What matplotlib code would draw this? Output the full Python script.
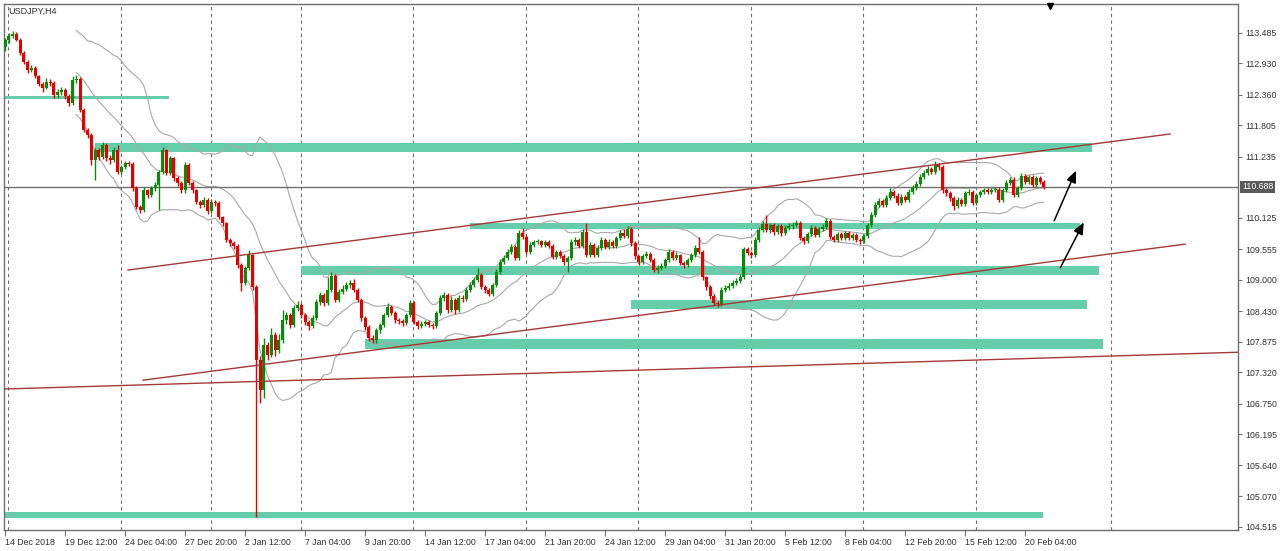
import numpy as np
import pandas as pd
import matplotlib
matplotlib.use("Agg")
import matplotlib.pyplot as plt
from matplotlib.patches import Rectangle
from matplotlib.transforms import blended_transform_factory

plt.rcParams['font.family'] = ['Liberation Sans', 'DejaVu Sans']

# USDJPY H4, 14 Dec 2018 20:00 .. 21 Feb 2019 00:00 (bar index 0..277)
first_open = 113.23
closes = [
    113.36, 113.43, 113.47, 113.36, 113.12, 112.96, 112.81, 112.85, 112.70, 112.56,
    112.49, 112.60, 112.58, 112.36, 112.41, 112.45, 112.34, 112.21, 112.63, 112.65,
    112.09, 111.72, 111.63, 111.18, 111.36, 111.23, 111.45, 111.21, 111.18, 111.36,
    110.96, 111.05, 111.12, 111.11, 110.67, 110.33, 110.27, 110.63, 110.54, 110.67,
    110.72, 110.96, 111.36, 110.94, 111.21, 110.85, 110.76, 110.63, 111.09, 110.76,
    110.63, 110.42, 110.36, 110.45, 110.25, 110.42, 110.40, 110.14, 110.03, 109.73,
    109.67, 109.62, 109.27, 108.95, 109.22, 109.45, 108.87, 107.55, 107.00, 107.82,
    107.64, 108.00, 107.73, 107.91, 108.27, 108.36, 108.18, 108.49, 108.55, 108.36,
    108.24, 108.16, 108.31, 108.60, 108.73, 108.58, 108.82, 109.07, 108.64, 108.78,
    108.84, 108.91, 108.95, 108.82, 108.64, 108.31, 108.15, 107.95, 107.91, 108.09,
    108.18, 108.36, 108.51, 108.40, 108.27, 108.25, 108.22, 108.36, 108.58, 108.24,
    108.16, 108.20, 108.24, 108.18, 108.16, 108.40, 108.67, 108.73, 108.45, 108.64,
    108.45, 108.67, 108.66, 108.82, 108.91, 109.00, 109.09, 108.87, 108.82, 108.75,
    108.91, 109.15, 109.33, 109.40, 109.51, 109.60, 109.40, 109.85, 109.78, 109.51,
    109.63, 109.69, 109.70, 109.63, 109.69, 109.62, 109.42, 109.51, 109.43, 109.33,
    109.40, 109.69, 109.73, 109.62, 109.87, 109.45, 109.63, 109.45, 109.58, 109.73,
    109.60, 109.69, 109.62, 109.76, 109.85, 109.80, 109.93, 109.67, 109.43, 109.33,
    109.43, 109.47, 109.36, 109.18, 109.22, 109.25, 109.36, 109.51, 109.40, 109.45,
    109.31, 109.27, 109.36, 109.45, 109.58, 109.51, 109.05, 108.87, 108.71, 108.58,
    108.56, 108.82, 108.85, 108.89, 108.95, 108.98, 109.05, 109.56, 109.49, 109.45,
    109.73, 109.91, 110.02, 109.91, 110.00, 109.87, 109.98, 109.85, 109.94, 109.98,
    110.00, 110.03, 109.76, 109.71, 109.83, 109.94, 109.82, 109.93, 109.96, 110.07,
    109.78, 109.73, 109.83, 109.76, 109.85, 109.76, 109.82, 109.73, 109.71, 109.80,
    110.00, 110.18, 110.36, 110.43, 110.36, 110.49, 110.60, 110.53, 110.40, 110.51,
    110.45, 110.60, 110.67, 110.74, 110.87, 110.94, 111.01, 110.96, 111.09, 111.05,
    110.63, 110.58, 110.49, 110.34, 110.45, 110.38, 110.58, 110.60, 110.40, 110.54,
    110.60, 110.63, 110.60, 110.63, 110.64, 110.45, 110.63, 110.76, 110.82, 110.54,
    110.67, 110.89, 110.78, 110.87, 110.72, 110.85, 110.78, 110.69,
]
highs = [
    113.40, 113.48, 113.52, 113.50, 113.39, 113.15, 112.99, 112.90, 112.88, 112.73,
    112.60, 112.66, 112.64, 112.61, 112.47, 112.50, 112.48, 112.38, 112.70, 112.72,
    112.68, 112.12, 111.76, 111.66, 111.40, 111.40, 111.50, 111.48, 111.26, 111.42,
    111.45, 111.09, 111.16, 111.16, 111.14, 110.70, 110.36, 110.69, 110.66, 110.71,
    110.78, 111.00, 111.42, 111.38, 111.25, 111.24, 110.89, 110.80, 111.14, 111.12,
    110.80, 110.66, 110.46, 110.50, 110.48, 110.47, 110.46, 110.43, 110.17, 110.06,
    109.77, 109.70, 109.65, 109.30, 109.26, 109.54, 109.48, 108.90, 107.62, 107.95,
    107.88, 108.12, 108.05, 108.02, 108.45, 108.42, 108.40, 108.55, 108.62, 108.58,
    108.40, 108.27, 108.36, 108.66, 108.78, 108.76, 109.05, 109.15, 109.10, 108.84,
    108.90, 108.96, 109.00, 109.02, 108.86, 108.67, 108.34, 108.18, 108.00, 108.13,
    108.22, 108.40, 108.58, 108.54, 108.44, 108.31, 108.29, 108.40, 108.64, 108.62,
    108.27, 108.25, 108.28, 108.27, 108.22, 108.44, 108.72, 108.79, 108.76, 108.70,
    108.68, 108.72, 108.72, 108.87, 108.96, 109.06, 109.22, 109.12, 108.91, 108.86,
    108.95, 109.20, 109.38, 109.45, 109.56, 109.66, 109.63, 109.90, 109.94, 109.82,
    109.68, 109.73, 109.74, 109.73, 109.73, 109.72, 109.65, 109.55, 109.54, 109.47,
    109.44, 109.74, 109.78, 109.76, 109.92, 110.03, 109.68, 109.67, 109.63, 109.78,
    109.76, 109.74, 109.73, 109.80, 109.90, 109.92, 109.98, 109.96, 109.70, 109.46,
    109.48, 109.52, 109.50, 109.39, 109.27, 109.30, 109.40, 109.56, 109.54, 109.50,
    109.48, 109.34, 109.40, 109.49, 109.63, 109.78, 109.54, 109.08, 108.90, 108.74,
    108.62, 108.87, 108.90, 108.94, 109.00, 109.04, 109.10, 109.60, 109.60, 109.53,
    109.78, 109.96, 110.07, 110.18, 110.04, 110.04, 110.02, 110.02, 109.99, 110.03,
    110.05, 110.08, 110.07, 109.80, 109.87, 109.99, 109.98, 109.97, 110.01, 110.12,
    110.10, 109.82, 109.87, 109.87, 109.89, 109.89, 109.86, 109.86, 109.77, 109.84,
    110.04, 110.23, 110.41, 110.48, 110.47, 110.54, 110.67, 110.64, 110.57, 110.56,
    110.55, 110.65, 110.72, 110.79, 110.92, 110.99, 111.06, 111.05, 111.16, 111.13,
    111.09, 110.67, 110.62, 110.52, 110.50, 110.49, 110.62, 110.66, 110.64, 110.58,
    110.64, 110.67, 110.67, 110.67, 110.68, 110.68, 110.67, 110.81, 110.86, 110.86,
    110.71, 110.94, 110.93, 110.91, 110.91, 110.89, 110.89, 110.82,
]
lows = [
    113.15, 113.30, 113.40, 113.33, 113.08, 112.92, 112.76, 112.77, 112.66, 112.52,
    112.42, 112.46, 112.52, 112.30, 112.31, 112.36, 112.29, 112.16, 112.18, 112.58,
    112.05, 111.68, 111.58, 111.09, 110.82, 111.18, 111.20, 111.16, 111.10, 111.14,
    110.92, 110.92, 111.02, 111.06, 110.62, 110.28, 110.22, 110.24, 110.49, 110.50,
    110.62, 110.27, 110.92, 110.90, 110.90, 110.80, 110.70, 110.58, 110.58, 110.72,
    110.58, 110.38, 110.30, 110.32, 110.20, 110.21, 110.35, 110.10, 109.98, 109.68,
    109.62, 109.57, 109.22, 108.80, 108.90, 109.18, 108.82, 104.70, 106.77, 106.85,
    107.55, 107.60, 107.62, 107.68, 107.86, 108.20, 108.12, 108.15, 108.44, 108.30,
    108.18, 108.09, 108.12, 108.27, 108.55, 108.53, 108.55, 108.78, 108.60, 108.60,
    108.74, 108.80, 108.86, 108.78, 108.60, 108.26, 108.10, 107.90, 107.85, 107.86,
    108.04, 108.14, 108.32, 108.36, 108.22, 108.20, 108.17, 108.18, 108.32, 108.20,
    108.11, 108.12, 108.16, 108.14, 108.11, 108.12, 108.36, 108.62, 108.40, 108.41,
    108.38, 108.41, 108.60, 108.62, 108.78, 108.87, 108.96, 108.83, 108.77, 108.70,
    108.71, 108.87, 109.11, 109.29, 109.36, 109.47, 109.36, 109.36, 109.74, 109.47,
    109.48, 109.60, 109.65, 109.60, 109.60, 109.58, 109.38, 109.38, 109.39, 109.28,
    109.15, 109.36, 109.64, 109.58, 109.58, 109.41, 109.41, 109.41, 109.42, 109.55,
    109.56, 109.56, 109.58, 109.58, 109.72, 109.76, 109.76, 109.62, 109.38, 109.28,
    109.29, 109.39, 109.32, 109.14, 109.13, 109.18, 109.21, 109.32, 109.36, 109.36,
    109.27, 109.22, 109.23, 109.32, 109.41, 109.47, 109.00, 108.82, 108.66, 108.54,
    108.51, 108.52, 108.78, 108.81, 108.85, 108.91, 108.94, 109.01, 109.45, 109.40,
    109.42, 109.69, 109.87, 109.87, 109.86, 109.82, 109.83, 109.80, 109.81, 109.90,
    109.93, 109.96, 109.72, 109.66, 109.67, 109.79, 109.78, 109.78, 109.89, 109.92,
    109.74, 109.68, 109.69, 109.72, 109.72, 109.72, 109.72, 109.69, 109.66, 109.67,
    109.76, 109.96, 110.14, 110.32, 110.32, 110.32, 110.45, 110.49, 110.36, 110.36,
    110.41, 110.41, 110.56, 110.63, 110.70, 110.83, 110.90, 110.92, 110.92, 111.00,
    110.58, 110.53, 110.44, 110.27, 110.30, 110.34, 110.34, 110.54, 110.36, 110.36,
    110.50, 110.56, 110.56, 110.56, 110.59, 110.41, 110.41, 110.59, 110.72, 110.50,
    110.50, 110.63, 110.74, 110.74, 110.68, 110.68, 110.74, 110.65,
]
current_price = 110.688

# time axis: a label every 16 bars
time_labels = ['14 Dec 2018', '19 Dec 12:00', '24 Dec 04:00', '27 Dec 20:00', '2 Jan 12:00',
               '7 Jan 04:00', '9 Jan 20:00', '14 Jan 12:00', '17 Jan 04:00', '21 Jan 20:00',
               '24 Jan 12:00', '29 Jan 04:00', '31 Jan 20:00', '5 Feb 12:00', '8 Feb 04:00',
               '12 Feb 20:00', '15 Feb 12:00', '20 Feb 04:00']
# week separators (Monday 00:00 bars)
week_bars = [1, 31, 55, 79, 109, 139, 169, 199, 229, 259, 295]

price_ticks = [113.485, 112.930, 112.360, 111.805, 111.235, 110.125, 109.555, 109.000,
               108.430, 107.875, 107.320, 106.750, 106.195, 105.640, 105.070, 104.515]

# support / resistance zones: (bar start, bar end, price low, price high)
zone_x0 = [-1, 24, 124, 79, 167, 96, -1]
zone_x1 = [43.7, 289.9, 286.7, 291.7, 288.5, 292.8, 276.8]
zone_lo = [112.28, 111.33, 109.93, 109.09, 108.47, 107.75, 104.68]
zone_hi = [112.34, 111.49, 110.04, 109.25, 108.64, 107.93, 104.79]

# trend lines: (bar0, price0, bar1, price1)
trend_lines = [
    (32.8, 109.18, 310.7, 111.65),
    (36.8, 107.18, 314.7, 109.65),
    (-5.0, 107.01, 340.0, 107.71),
]
# arrows: (bar0, price0, bar1, price1)
arrows = [
    (279.5, 110.03, 285.9, 111.03),
    (281.1, 109.18, 288.0, 110.09),
]

GREEN = '#0A8A0A'
RED = '#E60000'
ZONE = '#66CDAA'
TREND = '#A33A35'
TXT = '#303030'

closes = np.array(closes)
highs = np.array(highs)
lows = np.array(lows)
# H4 bars open where the previous one closed
opens = np.concatenate([[first_open], closes[:-1]])
idx = np.arange(len(closes))

fig = plt.figure(figsize=(12.8, 5.51), dpi=100)
ax = fig.add_axes([4 / 1280, 21 / 551, 1234 / 1280, 526 / 551])
ax.set_xlim(-0.27, 328.8)
ax.set_ylim(104.46, 114.01)

# weekly grid
for b in week_bars:
    ax.axvline(b - 0.1, color='#6E6E6E', lw=0.8, ls=(0, (3, 3)), zorder=0)

# zones
for x0, x1, lo, hi in zip(zone_x0, zone_x1, zone_lo, zone_hi):
    ax.add_patch(Rectangle((x0, lo), x1 - x0, hi - lo, facecolor=ZONE, edgecolor='none', zorder=1))

# Bollinger bands (20, 2)
s = pd.Series(closes)
mid = s.rolling(20).mean()
sd = s.rolling(20).std(ddof=0)
for band in (mid, mid + 2 * sd, mid - 2 * sd):
    ax.plot(idx, band, color='#A8A8A8', lw=0.8, zorder=2)

# current price line
ax.axhline(current_price, color='#707070', lw=1.0, zorder=2)

# candles
up = closes >= opens
cols = np.where(up, GREEN, RED)
ax.vlines(idx, lows, highs, colors=cols, lw=1.0, zorder=3)
body_lo = np.minimum(opens, closes)
body_h = np.maximum(np.abs(closes - opens), 0.02)
ax.bar(idx, body_h, bottom=body_lo, width=0.8, color=cols, linewidth=0, zorder=4)

# trend lines and arrows
for x0, y0, x1, y1 in trend_lines:
    ax.plot([x0, x1], [y0, y1], color=TREND, lw=1.0, zorder=5)
for x0, y0, x1, y1 in arrows:
    ax.annotate('', xy=(x1, y1), xytext=(x0, y0),
                arrowprops=dict(arrowstyle='-|>,head_length=0.7,head_width=0.3', color='black', lw=1.1),
                zorder=6)

# chart shift marker
tr = blended_transform_factory(ax.transData, ax.transAxes)
ax.plot([278.7], [0.997], marker='v', color='black', ms=5, transform=tr, clip_on=False, zorder=7)

# axes styling
for sp in ax.spines.values():
    sp.set_color('#6E6E6E')
    sp.set_linewidth(1.0)
ax.yaxis.tick_right()
ax.set_yticks(price_ticks)
ax.set_yticklabels([f'{p:.3f}' for p in price_ticks])
ax.tick_params(axis='y', direction='out', length=3, width=0.8, color='#6E6E6E',
               labelsize=6.3, labelcolor=TXT, pad=2)
ax.set_xticks(np.arange(len(time_labels)) * 16)
ax.set_xticklabels(time_labels, ha='left')
ax.tick_params(axis='x', direction='out', length=4, width=0.8, color='#6E6E6E',
               labelsize=6.3, labelcolor=TXT, pad=2)

# current price tag
ax.annotate(f'{current_price:.3f}', xy=(1.0, current_price), xycoords=('axes fraction', 'data'),
            xytext=(3, 0), textcoords='offset points', va='center', ha='left',
            fontsize=6.3, color='white',
            bbox=dict(boxstyle='square,pad=0.2', facecolor='#5A5A5A', edgecolor='none'))

fig.text(8 / 1280, 1 - 11 / 551, 'USDJPY,H4', fontsize=6.5, color=TXT, va='center', ha='left')

fig.savefig('out.png', dpi=100, facecolor='white')
